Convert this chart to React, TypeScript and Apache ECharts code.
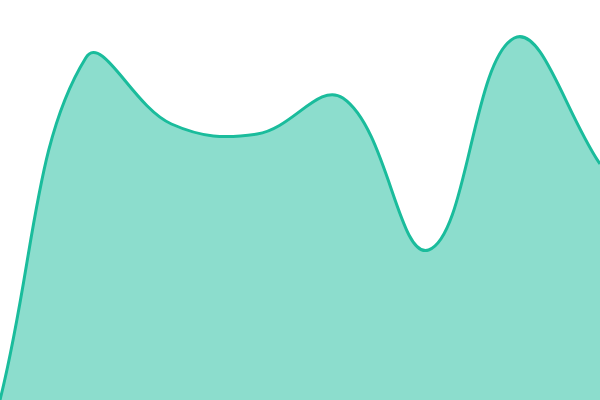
import { useEffect, useRef } from "react";
import * as echarts from "echarts";

// y axis runs 0..100 with no visible axes
const categories = ["1", "2", "3", "4", "5", "6", "7", "8"];
const values = [0, 85.5, 69, 66.5, 75.5, 37.5, 90.5, 59];

const Y_MIN = 0;
const Y_MAX = 100;
const TENSION = 0.4;
const LINE_COLOR = "#1abc9c";
const FILL_COLOR = "rgba(26, 188, 156, 0.5)";

type Pt = number[];

// spline control points like a tension-based cardinal curve (no clamping at extremes)
function controlPoints(pts: Pt[]) {
  return pts.map((cur, i) => {
    const prev = pts[Math.max(i - 1, 0)];
    const next = pts[Math.min(i + 1, pts.length - 1)];
    const d01 = Math.hypot(cur[0] - prev[0], cur[1] - prev[1]);
    const d12 = Math.hypot(next[0] - cur[0], next[1] - cur[1]);
    const s01 = d01 + d12 ? d01 / (d01 + d12) : 0;
    const s12 = d01 + d12 ? d12 / (d01 + d12) : 0;
    const vx = next[0] - prev[0];
    const vy = next[1] - prev[1];
    return {
      before: [cur[0] - TENSION * s01 * vx, cur[1] - TENSION * s01 * vy],
      after: [cur[0] + TENSION * s12 * vx, cur[1] + TENSION * s12 * vy],
    };
  });
}

function renderCurve(params: any, api: any) {
  if (params.dataIndex !== 0) return null;
  const pts: Pt[] = values.map((v, i) => api.coord([i, v]));
  const base = api.coord([0, Y_MIN])[1];
  const cps = controlPoints(pts);
  let d = `M${pts[0][0]},${pts[0][1]}`;
  for (let i = 1; i < pts.length; i++) {
    const a = cps[i - 1].after;
    const b = cps[i].before;
    d += ` C${a[0]},${a[1]} ${b[0]},${b[1]} ${pts[i][0]},${pts[i][1]}`;
  }
  const last = pts[pts.length - 1];
  const area = `${d} L${last[0]},${base} L${pts[0][0]},${base} Z`;
  return {
    type: "group",
    children: [
      { type: "path", shape: { pathData: area }, style: { fill: FILL_COLOR } },
      {
        type: "path",
        shape: { pathData: d },
        style: { fill: "none", stroke: LINE_COLOR, lineWidth: 3 },
      },
    ],
  };
}

export default function App() {
  const ref = useRef<HTMLDivElement | null>(null);

  useEffect(() => {
    const el = ref.current;
    if (!el) return;
    const chart = echarts.init(el, undefined, { renderer: "svg" });
    chart.setOption({
      animation: false,
      grid: { left: 0, right: 0, top: 0, bottom: 0 },
      xAxis: {
        type: "category",
        data: categories,
        boundaryGap: false,
        show: false,
      },
      yAxis: { type: "value", min: Y_MIN, max: Y_MAX, show: false },
      series: [
        {
          type: "custom",
          clip: true,
          data: values,
          renderItem: renderCurve,
        },
      ],
    });
    return () => chart.dispose();
  }, []);

  return (
    <div
      ref={ref}
      style={{ position: "fixed", left: 0, top: 0, width: 600, height: 400 }}
    />
  );
}
